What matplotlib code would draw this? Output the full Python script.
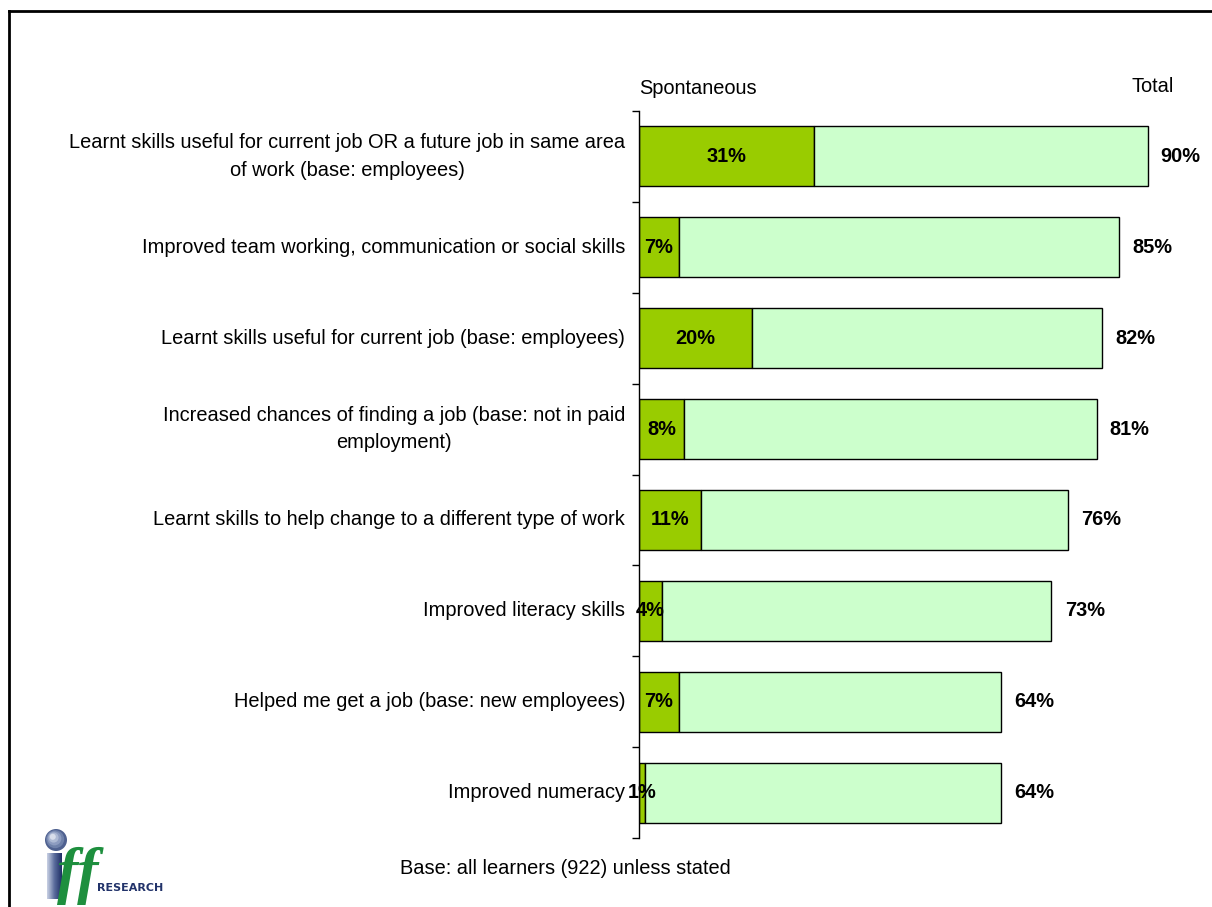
import numpy as np
import matplotlib.pyplot as plt
from matplotlib.patches import Circle
from matplotlib.lines import Line2D
from matplotlib.colors import LinearSegmentedColormap

plt.rcParams['font.family'] = ['Liberation Sans', 'DejaVu Sans']

# Outcomes of learning, % of learners
outcomes = [
    'Learnt skills useful for current job OR a future job in same area\nof work (base: employees)',
    'Improved team working, communication or social skills',
    'Learnt skills useful for current job (base: employees)',
    'Increased chances of finding a job (base: not in paid\nemployment)',
    'Learnt skills to help change to a different type of work',
    'Improved literacy skills',
    'Helped me get a job (base: new employees)',
    'Improved numeracy',
]
spontaneous = [31, 7, 20, 8, 11, 4, 7, 1]
total = [90, 85, 82, 81, 76, 73, 64, 64]

W, H = 1212, 907
fig = plt.figure(figsize=(W / 100, H / 100), dpi=100)

def fx(px):
    return px / W

def fy(py):
    return 1 - py / H

# plot area in pixels
x0, x1 = 639, 1204
y0, y1 = 111, 838
ax = fig.add_axes([fx(x0), fy(y1), fx(x1 - x0), (y1 - y0) / H])

ypos = np.arange(len(outcomes))
prompted = [t - s for t, s in zip(total, spontaneous)]
ax.barh(ypos, spontaneous, height=0.66, color='#99CC00', edgecolor='black', linewidth=1)
ax.barh(ypos, prompted, left=spontaneous, height=0.66, color='#CCFFCC',
        edgecolor='black', linewidth=1)

for y, s, t in zip(ypos, spontaneous, total):
    ax.text(s / 2, y, f'{s}%', ha='center', va='center', fontsize=14.4, fontweight='bold')
    ax.annotate(f'{t}%', (t, y), xytext=(9.5, 0), textcoords='offset points',
                ha='left', va='center', fontsize=14.4, fontweight='bold')

ax.set_xlim(0, 100)
ax.set_ylim(len(outcomes) - 0.5, -0.5)
ax.set_yticks(np.arange(len(outcomes) + 1) - 0.5)
ax.set_yticklabels([])
ax.set_xticks([])
ax.tick_params(axis='y', length=5, width=1, direction='out')
for side in ['top', 'right', 'bottom']:
    ax.spines[side].set_visible(False)
ax.spines['left'].set_linewidth(1)

# category labels to the left of the axis
for y, lab in zip(ypos, outcomes):
    ax.annotate(lab, (0, y), xytext=(-10, 0), textcoords='offset points',
                ha='right', va='center', fontsize=14.4, linespacing=1.55,
                multialignment='center' if '\n' in lab else 'right')

fig.text(fx(639), fy(88), 'Spontaneous', ha='left', va='center', fontsize=14.4)
fig.text(fx(1174), fy(87), 'Total', ha='right', va='center', fontsize=14.4)
fig.text(fx(565), fy(869), 'Base: all learners (922) unless stated', ha='center',
         va='center', fontsize=14.4)

# frame
fig.add_artist(Line2D([fx(9), 1], [fy(11), fy(11)], color='black', lw=2))
fig.add_artist(Line2D([fx(9), fx(9)], [fy(11), 0], color='black', lw=2))

# logo
lax = fig.add_axes([0, 0, 1, 1], zorder=-1)
for r, c in zip([11, 9, 7, 5, 3], ['#4f6190', '#6f81aa', '#8d9cc0', '#aebad4', '#d8deeb']):
    lax.add_patch(Circle((56 - (11 - r) * 0.4, 840 - (11 - r) * 0.4), r, color=c, lw=0))
stem_cmap = LinearSegmentedColormap.from_list('stem', ['#c8d0e4', '#5a6c9c', '#1f2f66'])
lax.imshow(np.linspace(0, 1, 32)[None, :], cmap=stem_cmap, aspect='auto',
           extent=(47, 62, 899, 853), interpolation='bilinear')
lax.text(78, 876, 'ff', color='#1e8f3e', fontsize=46, fontstyle='italic',
         fontweight='bold', family='Liberation Serif', ha='center', va='center')
lax.text(97, 888, 'RESEARCH', color='#22336a', fontsize=8, fontweight='bold',
         ha='left', va='center', family='DejaVu Sans')
lax.set_xlim(0, W)
lax.set_ylim(H, 0)
lax.axis('off')

fig.savefig('out.png', dpi=100)
